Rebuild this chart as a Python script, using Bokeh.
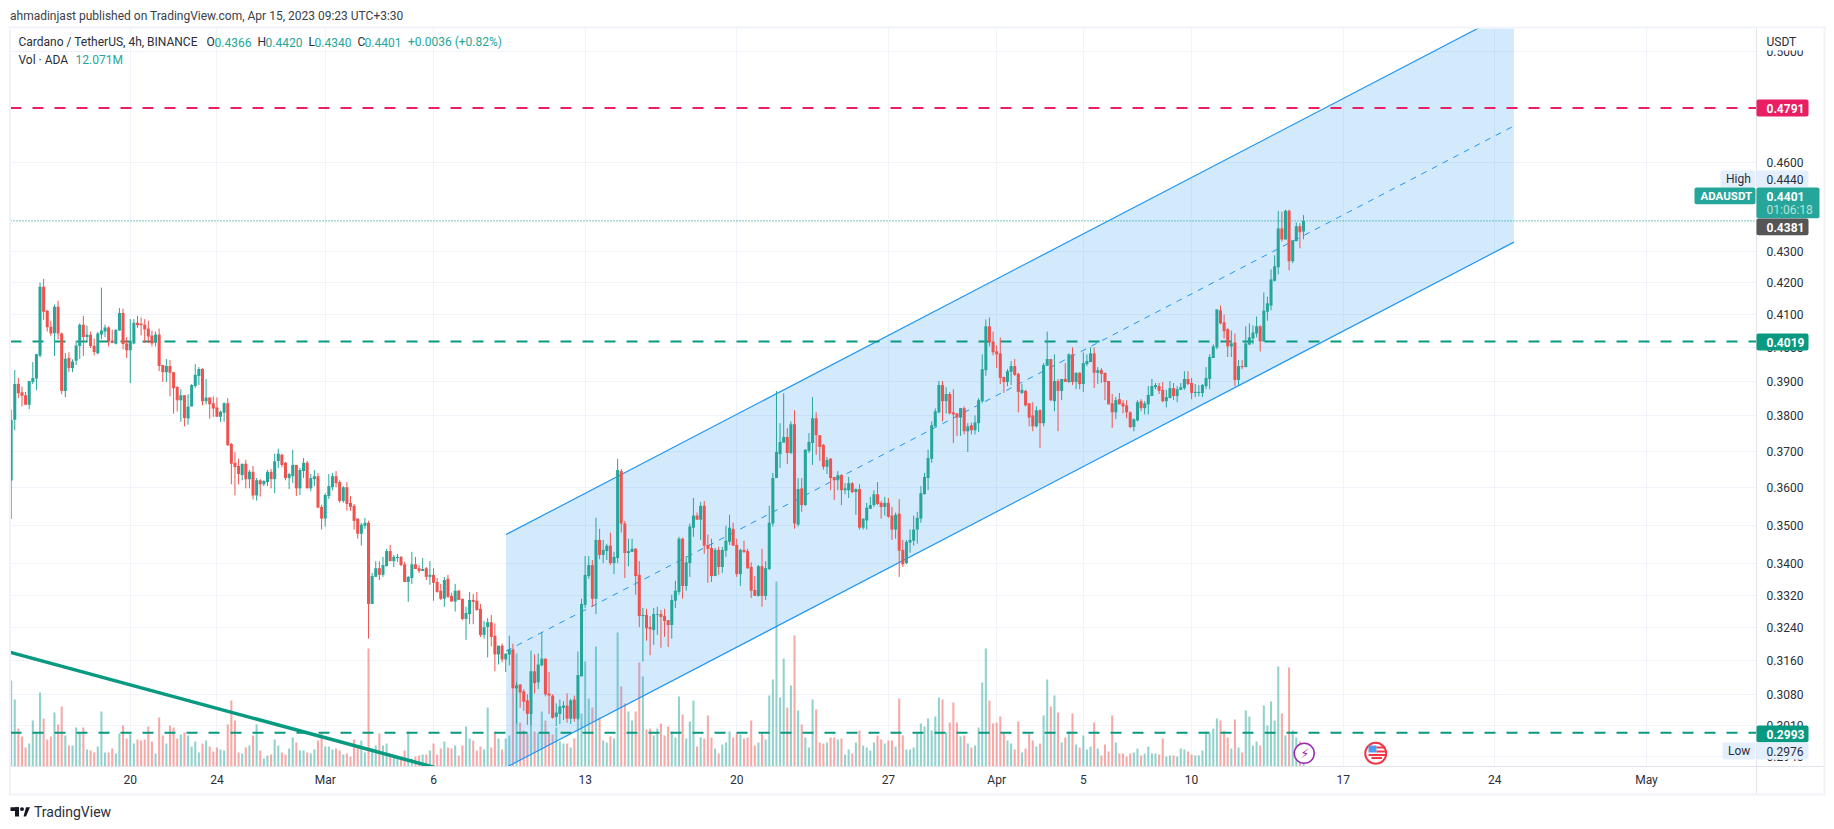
import numpy as np
from bokeh.embed import file_html
from bokeh.resources import INLINE
from bokeh.plotting import figure
from bokeh.models import (ColumnDataSource, Range1d, LinearAxis, LinearScale, LogAxis, FixedTicker, Label,
                          BoxAnnotation, PolyAnnotation, PrintfTickFormatter)

# ---------- OHLC of the 4h candles (USDT) ----------
open_prices = [
.3619,.3789,.3892,.3868,.3859,.3832,.3898,.3908,.3976,.4188,
.4113,.4064,.4044,.4125,.4043,.3872,.3969,.3939,.3961,.4005,
.4070,.4032,.4039,.4006,.3983,.4040,.4049,.4061,.4022,.4012,
.4052,.4106,.4013,.3992,.4013,.4076,.4073,.4070,.4058,.4037,
.4015,.4040,.3948,.3927,.3945,.3927,.3883,.3845,.3859,.3792,
.3827,.3886,.3916,.3936,.3842,.3853,.3836,.3824,.3797,.3809,
.3836,.3720,.3668,.3659,.3634,.3665,.3623,.3643,.3579,.3620,
.3609,.3615,.3643,.3623,.3673,.3690,.3668,.3626,.3631,.3662,
.3598,.3645,.3668,.3598,.3623,.3631,.3548,.3517,.3577,.3601,
.3631,.3615,.3564,.3601,.3559,.3551,.3517,.3477,.3498,.3506,
.3298,.3366,.3388,.3371,.3393,.3432,.3406,.3414,.3417,.3398,
.3353,.3363,.3398,.3388,.3381,.3388,.3366,.3371,.3353,.3331,
.3311,.3361,.3318,.3304,.3331,.3311,.3261,.3273,.3308,.3306,
.3286,.3222,.3241,.3253,.3220,.3175,.3196,.3163,.3175,.3187,
.3095,.3104,.3088,.3067,.3036,.3135,.3109,.3149,.3165,.3083,
.3078,.3029,.3036,.3050,.3055,.3025,.3069,.3025,.3123,.3296,
.3368,.3396,.3311,.3461,.3422,.3432,.3446,.3401,.3414,.3645,
.3504,.3427,.3430,.3438,.3371,.3268,.3271,.3241,.3234,.3271,
.3273,.3268,.3258,.3246,.3306,.3328,.3464,.3343,.3401,.3493,
.3525,.3514,.3551,.3448,.3440,.3368,.3435,.3391,.3433,.3456,
.3490,.3448,.3373,.3435,.3432,.3391,.3333,.3318,.3393,.3318,
.3386,.3504,.3626,.3692,.3724,.3740,.3695,.3776,.3501,.3598,
.3553,.3701,.3723,.3793,.3745,.3718,.3657,.3679,.3629,.3620,
.3634,.3593,.3593,.3612,.3588,.3596,.3493,.3512,.3543,.3553,
.3582,.3559,.3548,.3559,.3525,.3488,.3530,.3435,.3401,.3454,
.3459,.3488,.3517,.3582,.3626,.3679,.3770,.3810,.3889,.3842,
.3863,.3810,.3807,.3795,.3822,.3756,.3773,.3759,.3779,.3842,
.3933,.4065,.4019,.3989,.3983,.3913,.3898,.3928,.3945,.3922,
.3866,.3872,.3836,.3801,.3770,.3816,.3779,.3946,.3966,.3842,
.3901,.3872,.3907,.3898,.3980,.3898,.3925,.3892,.3951,.3957,
.3983,.3925,.3933,.3925,.3901,.3836,.3810,.3848,.3836,.3830,
.3810,.3768,.3787,.3842,.3822,.3833,.3857,.3883,.3886,.3875,
.3842,.3851,.3880,.3857,.3875,.3880,.3907,.3895,.3866,.3866,
.3866,.3886,.3907,.3969,.4001,.4114,.4077,.4056,.4004,.4016,
.3904,.3945,.3942,.4010,.4028,.4043,.4065,.4019,.4110,.4129,
.4207,.4250,.4376,.4340,.4435,.4269,.4334,.4383,.4366]
close_prices = [
.3789,.3892,.3865,.3858,.3832,.3901,.3910,.3980,.4188,.4110,
.4062,.4043,.4125,.4043,.3872,.3967,.3939,.3959,.4007,.4070,
.4032,.4039,.4005,.3987,.4043,.4052,.4061,.4020,.4014,.4054,
.4106,.4011,.3992,.4019,.4076,.4068,.4068,.4055,.4034,.4013,
.4040,.3945,.3927,.3945,.3925,.3880,.3845,.3859,.3794,.3827,
.3889,.3919,.3936,.3842,.3853,.3833,.3821,.3797,.3812,.3836,
.3717,.3665,.3656,.3637,.3665,.3623,.3643,.3579,.3620,.3609,
.3618,.3643,.3623,.3672,.3693,.3662,.3626,.3637,.3662,.3598,
.3648,.3668,.3598,.3626,.3631,.3546,.3517,.3580,.3604,.3631,
.3612,.3564,.3601,.3556,.3548,.3511,.3477,.3501,.3506,.3298,
.3368,.3388,.3371,.3396,.3432,.3406,.3417,.3417,.3396,.3353,
.3366,.3398,.3386,.3381,.3386,.3366,.3371,.3351,.3328,.3311,
.3358,.3316,.3304,.3331,.3308,.3261,.3276,.3308,.3303,.3283,
.3222,.3241,.3253,.3217,.3175,.3196,.3163,.3177,.3187,.3095,
.3102,.3085,.3064,.3036,.3135,.3107,.3151,.3165,.3081,.3078,
.3027,.3039,.3053,.3055,.3025,.3067,.3025,.3126,.3298,.3371,
.3396,.3311,.3461,.3422,.3435,.3446,.3401,.3417,.3648,.3504,
.3427,.3432,.3438,.3368,.3268,.3271,.3238,.3236,.3273,.3273,
.3266,.3256,.3246,.3308,.3331,.3464,.3343,.3403,.3496,.3525,
.3514,.3551,.3446,.3438,.3368,.3435,.3391,.3435,.3459,.3493,
.3446,.3373,.3435,.3430,.3388,.3331,.3318,.3393,.3318,.3388,
.3506,.3626,.3698,.3726,.3740,.3695,.3776,.3504,.3596,.3553,
.3704,.3726,.3793,.3745,.3712,.3657,.3676,.3626,.3620,.3634,
.3593,.3598,.3612,.3588,.3596,.3493,.3517,.3546,.3553,.3582,
.3556,.3548,.3559,.3522,.3488,.3527,.3433,.3398,.3456,.3461,
.3488,.3519,.3585,.3629,.3681,.3773,.3813,.3889,.3842,.3863,
.3807,.3804,.3795,.3822,.3756,.3770,.3759,.3781,.3845,.3936,
.4065,.4016,.3986,.3980,.3910,.3898,.3930,.3945,.3919,.3869,
.3875,.3830,.3795,.3770,.3816,.3779,.3948,.3966,.3845,.3901,
.3872,.3907,.3898,.3980,.3898,.3925,.3892,.3954,.3960,.3983,
.3925,.3933,.3922,.3898,.3833,.3810,.3845,.3833,.3827,.3810,
.3768,.3790,.3839,.3822,.3836,.3860,.3886,.3889,.3872,.3842,
.3854,.3880,.3857,.3877,.3883,.3907,.3892,.3866,.3869,.3869,
.3889,.3910,.3972,.4004,.4117,.4074,.4050,.4004,.4013,.3904,
.3945,.3942,.4013,.4031,.4046,.4065,.4019,.4113,.4136,.4211,
.4253,.4376,.4340,.4435,.4269,.4337,.4383,.4363,.4401]
high_prices = [
.3818,.3933,.3910,.3884,.3869,.3901,.3957,.3982,.4201,.4213,
.4115,.4082,.4132,.4144,.4046,.3984,.3986,.3965,.4022,.4074,
.4097,.4067,.4049,.4028,.4048,.4185,.4070,.4065,.4055,.4057,
.4121,.4119,.4032,.4087,.4087,.4097,.4092,.4087,.4082,.4052,
.4049,.4058,.3948,.3966,.3963,.3927,.3886,.3877,.3859,.3862,
.3892,.3951,.3942,.3939,.3907,.3853,.3856,.3853,.3815,.3839,
.3851,.3723,.3698,.3679,.3665,.3676,.3648,.3659,.3626,.3623,
.3620,.3648,.3651,.3693,.3707,.3693,.3670,.3640,.3704,.3662,
.3654,.3681,.3673,.3637,.3648,.3640,.3554,.3585,.3637,.3640,
.3645,.3620,.3604,.3615,.3577,.3556,.3517,.3506,.3519,.3511,
.3376,.3406,.3406,.3417,.3438,.3448,.3422,.3425,.3419,.3404,
.3368,.3430,.3417,.3396,.3414,.3391,.3406,.3388,.3363,.3348,
.3366,.3371,.3326,.3348,.3333,.3311,.3291,.3328,.3323,.3328,
.3298,.3256,.3263,.3271,.3250,.3196,.3201,.3177,.3220,.3201,
.3109,.3104,.3093,.3081,.3184,.3175,.3177,.3229,.3165,.3133,
.3081,.3060,.3069,.3065,.3083,.3071,.3078,.3182,.3311,.3419,
.3419,.3409,.3519,.3490,.3461,.3451,.3480,.3430,.3679,.3651,
.3511,.3464,.3464,.3440,.3406,.3288,.3286,.3268,.3288,.3291,
.3283,.3286,.3258,.3321,.3356,.3469,.3467,.3419,.3504,.3572,
.3533,.3561,.3564,.3475,.3464,.3440,.3443,.3443,.3498,.3527,
.3506,.3464,.3438,.3459,.3438,.3403,.3368,.3396,.3438,.3406,
.3551,.3640,.3872,.3779,.3865,.3765,.3784,.3816,.3626,.3626,
.3706,.3751,.3854,.3810,.3745,.3720,.3684,.3681,.3629,.3645,
.3637,.3612,.3629,.3615,.3598,.3609,.3517,.3559,.3575,.3593,
.3615,.3564,.3575,.3572,.3548,.3533,.3569,.3461,.3461,.3488,
.3525,.3535,.3604,.3640,.3704,.3784,.3821,.3901,.3901,.3883,
.3869,.3877,.3807,.3822,.3827,.3779,.3781,.3801,.3851,.3980,
.4086,.4092,.4049,.4007,.4031,.3913,.3936,.3960,.3966,.3925,
.3892,.3875,.3836,.3839,.3827,.3819,.3954,.4049,.3966,.3980,
.3907,.3907,.3954,.3983,.4001,.3927,.3927,.3986,.3980,.4001,
.4001,.3942,.3939,.3925,.3901,.3863,.3854,.3866,.3845,.3845,
.3813,.3793,.3845,.3848,.3842,.3886,.3907,.3895,.3895,.3898,
.3875,.3901,.3895,.3886,.3895,.3930,.3930,.3910,.3892,.3889,
.3892,.3942,.3980,.4010,.4117,.4129,.4101,.4059,.4052,.4043,
.3963,.3963,.4065,.4074,.4068,.4095,.4068,.4170,.4157,.4243,
.4288,.4434,.4431,.4438,.4438,.4337,.4396,.4393,.4420]
low_prices = [
.3516,.3759,.3851,.3827,.3832,.3819,.3892,.3874,.3971,.4085,
.4049,.4035,.3975,.4025,.3862,.3853,.3927,.3927,.3948,.3966,
.3975,.4017,.3999,.3977,.3980,.4026,.4032,.4004,.4014,.4010,
.4052,.3995,.3969,.3895,.4010,.4060,.4037,.4014,.4014,.4004,
.4004,.3930,.3898,.3898,.3856,.3806,.3812,.3783,.3770,.3775,
.3827,.3880,.3889,.3830,.3833,.3792,.3797,.3797,.3783,.3783,
.3715,.3609,.3579,.3609,.3620,.3598,.3598,.3568,.3565,.3576,
.3604,.3604,.3598,.3585,.3654,.3656,.3620,.3596,.3612,.3577,
.3580,.3626,.3598,.3590,.3604,.3546,.3488,.3496,.3569,.3593,
.3601,.3559,.3559,.3538,.3538,.3488,.3464,.3446,.3490,.3213,
.3298,.3366,.3358,.3366,.3393,.3406,.3391,.3404,.3393,.3353,
.3303,.3348,.3386,.3376,.3381,.3358,.3346,.3306,.3326,.3308,
.3291,.3313,.3304,.3279,.3308,.3258,.3210,.3248,.3248,.3281,
.3217,.3213,.3168,.3194,.3135,.3151,.3156,.3133,.3149,.3078,
.3013,.3050,.3043,.3011,.3011,.3083,.3093,.3147,.3076,.3036,
.3025,.3008,.3013,.3022,.3016,.3013,.3018,.3022,.3123,.3288,
.3361,.3291,.3273,.3411,.3401,.3409,.3396,.3373,.3401,.3480,
.3363,.3393,.3430,.3321,.3241,.3158,.3208,.3173,.3198,.3222,
.3191,.3217,.3193,.3213,.3288,.3321,.3311,.3331,.3366,.3469,
.3514,.3461,.3425,.3351,.3353,.3368,.3371,.3376,.3417,.3448,
.3446,.3366,.3343,.3427,.3386,.3313,.3318,.3316,.3291,.3308,
.3383,.3496,.3626,.3654,.3724,.3665,.3692,.3490,.3496,.3535,
.3551,.3695,.3662,.3690,.3673,.3649,.3637,.3593,.3567,.3593,
.3553,.3582,.3572,.3585,.3527,.3488,.3488,.3488,.3543,.3548,
.3553,.3517,.3525,.3519,.3461,.3464,.3366,.3391,.3398,.3428,
.3446,.3451,.3506,.3582,.3593,.3668,.3770,.3807,.3784,.3807,
.3804,.3723,.3743,.3743,.3747,.3698,.3747,.3747,.3754,.3836,
.3916,.4004,.3977,.3939,.3892,.3866,.3886,.3889,.3916,.3810,
.3863,.3827,.3770,.3756,.3767,.3709,.3770,.3946,.3842,.3813,
.3756,.3845,.3898,.3895,.3889,.3877,.3877,.3869,.3945,.3957,
.3880,.3892,.3895,.3845,.3833,.3765,.3790,.3833,.3807,.3793,
.3765,.3756,.3784,.3813,.3804,.3804,.3857,.3877,.3863,.3839,
.3824,.3851,.3845,.3839,.3875,.3875,.3889,.3848,.3854,.3856,
.3854,.3877,.3877,.3969,.3995,.4071,.4028,.3972,.3972,.3886,
.3889,.3936,.3942,.4007,.4010,.4031,.3989,.4019,.4082,.4114,
.4204,.4227,.4333,.4340,.4240,.4263,.4334,.4311,.4340]
# volume, millions of ADA
volumes = [
258,201,114,90,57,69,138,99,222,144,81,90,162,126,180,93,63,63,117,102,
117,51,48,42,60,165,42,42,54,39,99,123,84,96,69,81,78,81,120,75,
39,147,93,69,123,117,84,96,102,93,60,75,42,69,78,60,45,57,51,48,
126,198,138,42,39,57,63,93,126,48,24,33,36,81,63,42,36,54,87,72,
48,48,42,39,51,78,102,60,60,51,54,48,36,39,30,81,57,78,42,354,
54,63,99,63,69,33,27,30,30,48,105,24,30,33,36,36,48,69,36,54,
75,57,54,63,33,63,120,84,78,48,60,51,177,57,105,84,51,84,93,213,
339,132,108,99,159,105,99,165,138,99,96,117,75,69,69,57,84,189,159,315,
204,177,360,147,78,72,90,84,402,240,189,165,138,165,312,270,111,114,93,114,
129,93,120,105,87,210,156,84,135,198,60,87,84,153,87,54,39,66,72,105,
87,99,96,84,87,138,63,72,99,81,213,261,555,207,324,177,243,393,168,126,
87,57,201,171,72,69,72,87,87,81,84,36,51,39,72,108,63,57,48,72,
93,81,69,78,78,60,204,93,51,51,57,99,129,120,144,108,150,207,201,102,
132,192,132,90,93,69,57,63,117,252,354,198,129,132,150,99,78,69,51,135,
42,54,99,78,60,69,153,261,180,213,162,72,87,105,159,66,57,93,51,60,
132,54,33,66,45,153,72,39,39,30,39,42,54,33,39,60,39,39,36,84,
30,33,33,30,54,51,45,36,33,33,48,105,99,114,144,138,105,87,54,141,
57,42,168,150,63,75,63,183,123,195,138,300,159,93,297,108,87,75,12.071]

# ---------- axes (day 0 = 1 March 2023) ----------
first_candle_day = -14.5
candles_per_day = 6
time_ticks = [-9, -5, 0, 5, 12, 19, 26, 31, 35, 40, 47, 54, 61]
time_labels = ["20", "24", "Mar", "6", "13", "20", "27", "Apr", "5", "10", "17", "24", "May"]
price_ticks = [0.50, 0.46, 0.43, 0.42, 0.41, 0.40, 0.39, 0.38, 0.37, 0.36, 0.35, 0.34,
               0.332, 0.324, 0.316, 0.308, 0.301, 0.294]
x_start, x_end = -14.53, 66.08
y_low, y_high = 0.2918, 0.5087
vol_top = 2214

# ---------- drawings ----------
resistance = 0.4791
support_mid = 0.4019
support_low = 0.2993
last_price = 0.4401
channel_x = [8.35, 54.88]
channel_top = [0.3475, 0.5160]
channel_mid = [0.3183, 0.4727]
channel_bottom = [0.2916, 0.4331]
trend_x = [-14.53, 5.05]
trend_y = [0.3180, 0.2916]
event_days = [45.2, 48.5]
event_price = 0.2947

GREEN, RED = "#26a69a", "#ef5350"
TEAL, PINK = "#089981", "#e91e63"
BLUE = "#2196f3"
FONT = "Roboto"
INK = "#2a2e39"
PAGE_W, PAGE_H = 1826, 822

n = len(close_prices)
x = first_candle_day + np.arange(n) / candles_per_day
o, h, l, c = map(np.array, (open_prices, high_prices, low_prices, close_prices))
colors = [GREEN if ci >= oi else RED for oi, ci in zip(o, c)]
src = ColumnDataSource(dict(x=x, o=o, h=h, l=l, c=c, top=np.maximum(o, c), bot=np.minimum(o, c),
                            v=np.array(volumes, dtype=float), color=colors))

p = figure(width=PAGE_W, height=PAGE_H, output_backend="svg", toolbar_location=None,
           x_range=Range1d(x_start, x_end), y_range=Range1d(y_low, y_high), y_axis_type="log",
           x_axis_location=None, y_axis_location=None,
           min_border_left=10, min_border_right=70, min_border_top=28, min_border_bottom=56,
           background_fill_color="white", border_fill_color="white", outline_line_alpha=0)
p.extra_y_ranges = {"vol": Range1d(0, vol_top)}
p.extra_y_scales = {"vol": LinearScale()}

# axes
yax = LogAxis(ticker=FixedTicker(ticks=price_ticks), formatter=PrintfTickFormatter(format="%.4f"))
xax = LinearAxis(ticker=FixedTicker(ticks=time_ticks),
                 major_label_overrides={t: s for t, s in zip(time_ticks, time_labels)})
for ax in (xax, yax):
    ax.major_tick_line_color = None
    ax.minor_tick_line_color = None
    ax.major_tick_out = 0
    ax.major_tick_in = 0
    ax.minor_tick_out = 0
    ax.minor_tick_in = 0
    ax.axis_line_color = "#e0e3eb"
    ax.major_label_text_font = FONT
    ax.major_label_text_color = INK
    ax.major_label_text_font_size = "12px"
yax.major_label_standoff = 10
yax.major_label_text_align = "left"
xax.major_label_standoff = 6
p.add_layout(yax, "right")
p.add_layout(xax, "below")

# grid
p.ygrid.ticker = FixedTicker(ticks=price_ticks)
p.xgrid.ticker = FixedTicker(ticks=time_ticks)
p.grid.grid_line_color = "#f0f3fa"
p.grid.grid_line_width = 1

# volume
p.vbar(x="x", top="v", bottom=0, width=0.095, fill_color="color", line_color=None, fill_alpha=0.5,
       y_range_name="vol", source=src)

# channel
p.varea(x=channel_x, y1=channel_bottom, y2=channel_top, fill_color=BLUE, fill_alpha=0.2)
p.line(channel_x, channel_top, line_color=BLUE, line_width=1.2)
p.line(channel_x, channel_bottom, line_color=BLUE, line_width=1.2)
p.line(channel_x, channel_mid, line_color=BLUE, line_width=1, line_dash="6 6")

# trend line
p.line(trend_x, trend_y, line_color=TEAL, line_width=3.5)

# horizontal levels
for lvl, col in ((resistance, PINK), (support_mid, TEAL), (support_low, TEAL)):
    p.segment(x0=[x_start], x1=[x_end], y0=[lvl], y1=[lvl], line_color=col, line_width=2, line_dash="11 11")
p.segment(x0=[x_start], x1=[x_end], y0=[last_price], y1=[last_price], line_color=GREEN, line_width=1.3, line_dash="1 2")

# candles
p.segment(x0="x", x1="x", y0="l", y1="h", line_color="color", line_width=1, source=src)
p.vbar(x="x", top="top", bottom="bot", width=0.14, fill_color="color", line_color=None, source=src)

# events under the last candles
p.scatter(event_days[:1], [event_price], size=20, fill_color="white", line_color="#9c27b0", line_width=1.5)
p.scatter(event_days[1:], [event_price], size=21, fill_color="white", line_color="#f23645", line_width=2)

# transparent sheet over the whole page for tags and header, which a plot frame would clip
q = figure(width=PAGE_W, height=PAGE_H, output_backend="svg", toolbar_location=None,
           x_range=Range1d(0, PAGE_W), y_range=Range1d(PAGE_H, 0), x_axis_location=None, y_axis_location=None,
           min_border=0, background_fill_alpha=0, border_fill_alpha=0, outline_line_alpha=0)
q.grid.visible = False
q.styles = {"position": "absolute", "left": "0px", "top": "0px", "z-index": "5", "pointer-events": "none"}


def box(x0, y0, x1, y1, color, radius=0):
    q.add_layout(BoxAnnotation(left=x0, right=x1, top=y0, bottom=y1, left_units="canvas", right_units="canvas",
                               top_units="canvas", bottom_units="canvas", fill_color=color, fill_alpha=1,
                               line_color=None, border_radius=radius))


def text(x0, y0, s, color=INK, size=12, style="normal", align="left", font=FONT):
    q.add_layout(Label(x=x0, y=y0, x_units="canvas", y_units="canvas", text=s, text_color=color,
                       text_font=font, text_font_size=f"{size}px", text_font_style=style,
                       text_align=align, text_baseline="middle"))


# chrome: outer frame and separators
BORDER = "#f0f3fa"
box(8, 26, 1825, 28, BORDER)
box(8, 793, 1825, 795, BORDER)
box(8.5, 26, 10.5, 795, BORDER)
box(1823, 26, 1825, 795, BORDER)
box(10, 765.5, 1823, 766.5, "#e0e3eb")
box(1755.5, 28, 1756.5, 793, "#e0e3eb")
box(1757, 28, 1822, 50, "white")
text(1766, 41, "USDT")

# price tags
W = "white"
box(1756, 99, 1808, 116, PINK, 2)
text(1766, 108, "0.4791", W, style="bold")
box(1720, 170, 1755, 186.7, "#e3effd", 2)
text(1725.5, 178.5, "High")
box(1756, 170, 1808, 186.7, "#e3effd", 2)
text(1766, 178.5, "0.4440")
box(1694, 187, 1755, 203.7, GREEN, 2)
text(1700, 195.5, "ADAUSDT", W, style="bold", size=11.5)
box(1756, 187, 1819, 217.7, GREEN, 2)
text(1766, 195.5, "0.4401", W, style="bold")
text(1766, 209.5, "01:06:18", "#b5e2dc")
box(1756, 218, 1808, 234.7, "#555555", 2)
text(1766, 226.5, "0.4381", W, style="bold")
box(1756, 333, 1808, 350, TEAL, 2)
text(1766, 341.5, "0.4019", W, style="bold")
box(1756, 725, 1808, 741.7, TEAL, 2)
text(1766, 733.7, "0.2993", W, style="bold")
box(1722, 742, 1755, 759, "#e3effd", 2)
text(1727.5, 750.5, "Low")
box(1756, 742, 1808, 759, "#e3effd", 2)
text(1766, 750.5, "0.2976")

# header texts
text(9.5, 15.5, "ahmadinjast published on TradingView.com, Apr 15, 2023 09:23 UTC+3:30", "#3a3e49", size=12)
text(18, 41.5, "Cardano / TetherUS, 4h, BINANCE", INK, size=12)
for x0, lab, x1, val in ((206, "O", 214, "0.4366"), (257, "H", 265, "0.4420"), (308, "L", 314, "0.4340"), (357, "C", 364, "0.4401")):
    text(x0, 41.5, lab, INK, size=12)
    text(x1, 41.5, val, GREEN, size=12)
text(407.5, 41.5, "+0.0036 (+0.82%)", GREEN, size=12)
text(18, 59, "Vol · ADA", INK, size=12)
text(75, 59, "12.071M", GREEN, size=12)

# event glyphs
text(1304.3, 753, "⚡", "#9c27b0", size=13, align="center", font="DejaVu Sans")
box(1368, 745, 1376, 752, "#4a9df0")
box(1376, 746, 1384.5, 748, "#f23645")
box(1376, 750, 1384.5, 752, "#f23645")
box(1368, 753.5, 1384.5, 755.5, "#f23645")
box(1371, 756.5, 1381.5, 758.5, "#f23645")

# TradingView logo
box(10, 806.7, 18.5, 810.5, "#131722")
box(14.5, 806.7, 18.5, 816, "#131722")
box(19.5, 806.7, 23.5, 810.5, "#131722", 2)
q.add_layout(PolyAnnotation(xs=[23, 25.5, 29.5, 25.5, 20], ys=[816, 806.7, 806.7, 816, 816],
                            xs_units="canvas", ys_units="canvas", fill_color="#131722", fill_alpha=1, line_color=None))
text(33.5, 811.5, "TradingView", "#2a2e39", size=14)

open("out.html", "w").write(file_html([p, q], INLINE))
